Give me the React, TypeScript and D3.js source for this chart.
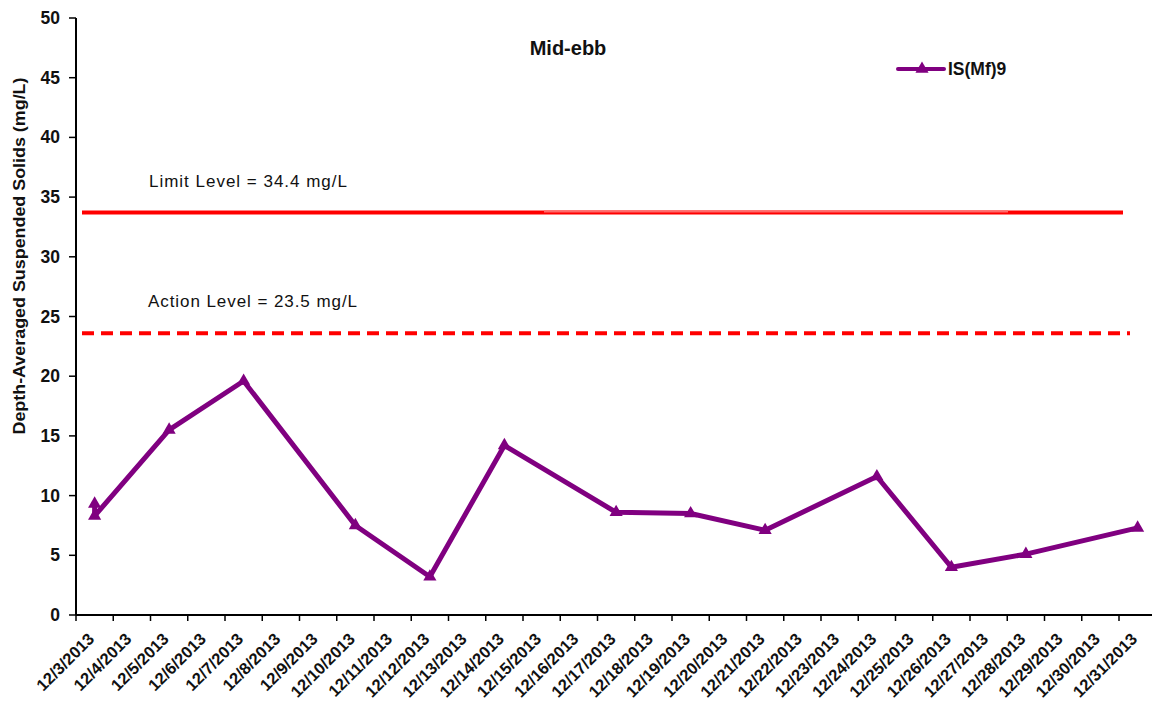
import React from "react";
import * as d3 from "d3";

const categories = Array.from({ length: 29 }, (_, i) => `12/${i + 3}/2013`);
const seriesDates = ["12/3/2013", "12/3/2013", "12/5/2013", "12/7/2013", "12/10/2013", "12/12/2013", "12/14/2013", "12/17/2013", "12/19/2013", "12/21/2013", "12/24/2013", "12/26/2013", "12/28/2013", "12/31/2013"];
const seriesValues = [9.3, 8.3, 15.5, 19.6, 7.5, 3.2, 14.2, 8.6, 8.5, 7.1, 11.6, 4.0, 5.1, 7.3];
const yTicks = [0, 5, 10, 15, 20, 25, 30, 35, 40, 45, 50];
const limitValue = 33.7;
const actionValue = 23.6;
const seriesName = "IS(Mf)9";

export default function App() {
  const left = 76, top = 18, bottom = 615;
  const band = 37.25;
  const right = left + band * categories.length;
  const x = d3.scaleBand().domain(categories).range([left, right]).padding(0);
  const y = d3.scaleLinear().domain([0, 50]).range([bottom, top]);
  const cx = (d: string) => (x(d) as number) + x.bandwidth() / 2;
  const pts = seriesDates.map((d, i) => [cx(d), y(seriesValues[i])] as [number, number]);
  const line = d3.line()(pts) as string;
  const tri = d3.symbol().type(d3.symbolTriangle).size(75)() as string;
  const purple = "#800080";
  const font = "'Liberation Sans', Arial, sans-serif";

  return (
    <svg width={1152} height={704} style={{ position: "absolute", left: 0, top: 0, background: "#fff" }} fontFamily={font}>
      <rect width={1152} height={704} fill="#fff" />
      {/* Limit line */}
      <line x1={82} x2={1123} y1={y(limitValue)} y2={y(limitValue)} stroke="#ff0000" strokeWidth={4} />
      <line x1={544} x2={1008} y1={y(limitValue) - 1} y2={y(limitValue) - 1} stroke="#ff6a6a" strokeWidth={2} />
      <text x={149} y={187} fontSize={17} textLength={198} lengthAdjust="spacing" fill="#111">Limit Level = 34.4 mg/L</text>
      {/* Action line */}
      <line x1={82} x2={1130} y1={y(actionValue)} y2={y(actionValue)} stroke="#ff0000" strokeWidth={4} strokeDasharray="12,7" />
      <text x={148} y={307} fontSize={17} textLength={209} lengthAdjust="spacing" fill="#111">Action Level = 23.5 mg/L</text>
      {/* axes */}
      <line x1={left} x2={left} y1={top} y2={bottom} stroke="#000" strokeWidth={2} />
      <line x1={left} x2={1152} y1={bottom} y2={bottom} stroke="#000" strokeWidth={2} />
      {yTicks.map((t) => (
        <g key={t}>
          <line x1={left - 7} x2={left} y1={y(t)} y2={y(t)} stroke="#000" strokeWidth={1.5} />
          <text x={60} y={y(t) + 6} textAnchor="end" fontSize={17.5} fontWeight="bold" fill="#111">{t}</text>
        </g>
      ))}
      {categories.map((c, i) => (
        <line key={c} x1={left + i * band} x2={left + i * band} y1={bottom} y2={bottom + 6} stroke="#000" strokeWidth={1.5} />
      ))}
      {categories.map((c) => (
        <text key={c} transform={`translate(${cx(c) + 0.5},${bottom + 25}) rotate(-45)`} textAnchor="end" fontSize={16.5} fontWeight="bold" fill="#111">{c}</text>
      ))}
      <text transform={`translate(25,256) rotate(-90)`} textAnchor="middle" fontSize={17} fontWeight="bold" textLength={357} lengthAdjust="spacingAndGlyphs" fill="#111">Depth-Averaged Suspended Solids (mg/L)</text>
      <text x={568} y={55} textAnchor="middle" fontSize={20} fontWeight="bold" fill="#111">Mid-ebb</text>
      {/* series */}
      <path d={line} fill="none" stroke={purple} strokeWidth={5} strokeLinejoin="round" />
      {pts.map((p, i) => (
        <path key={i} d={tri} transform={`translate(${p[0]},${p[1]})`} fill={purple} />
      ))}
      {/* legend */}
      <line x1={898} x2={944} y1={69} y2={69} stroke={purple} strokeWidth={4} strokeLinecap="round" />
      <path d={tri} transform="translate(922,69)" fill={purple} />
      <text x={948} y={75} fontSize={17.5} fontWeight="bold" fill="#111">{seriesName}</text>
    </svg>
  );
}
